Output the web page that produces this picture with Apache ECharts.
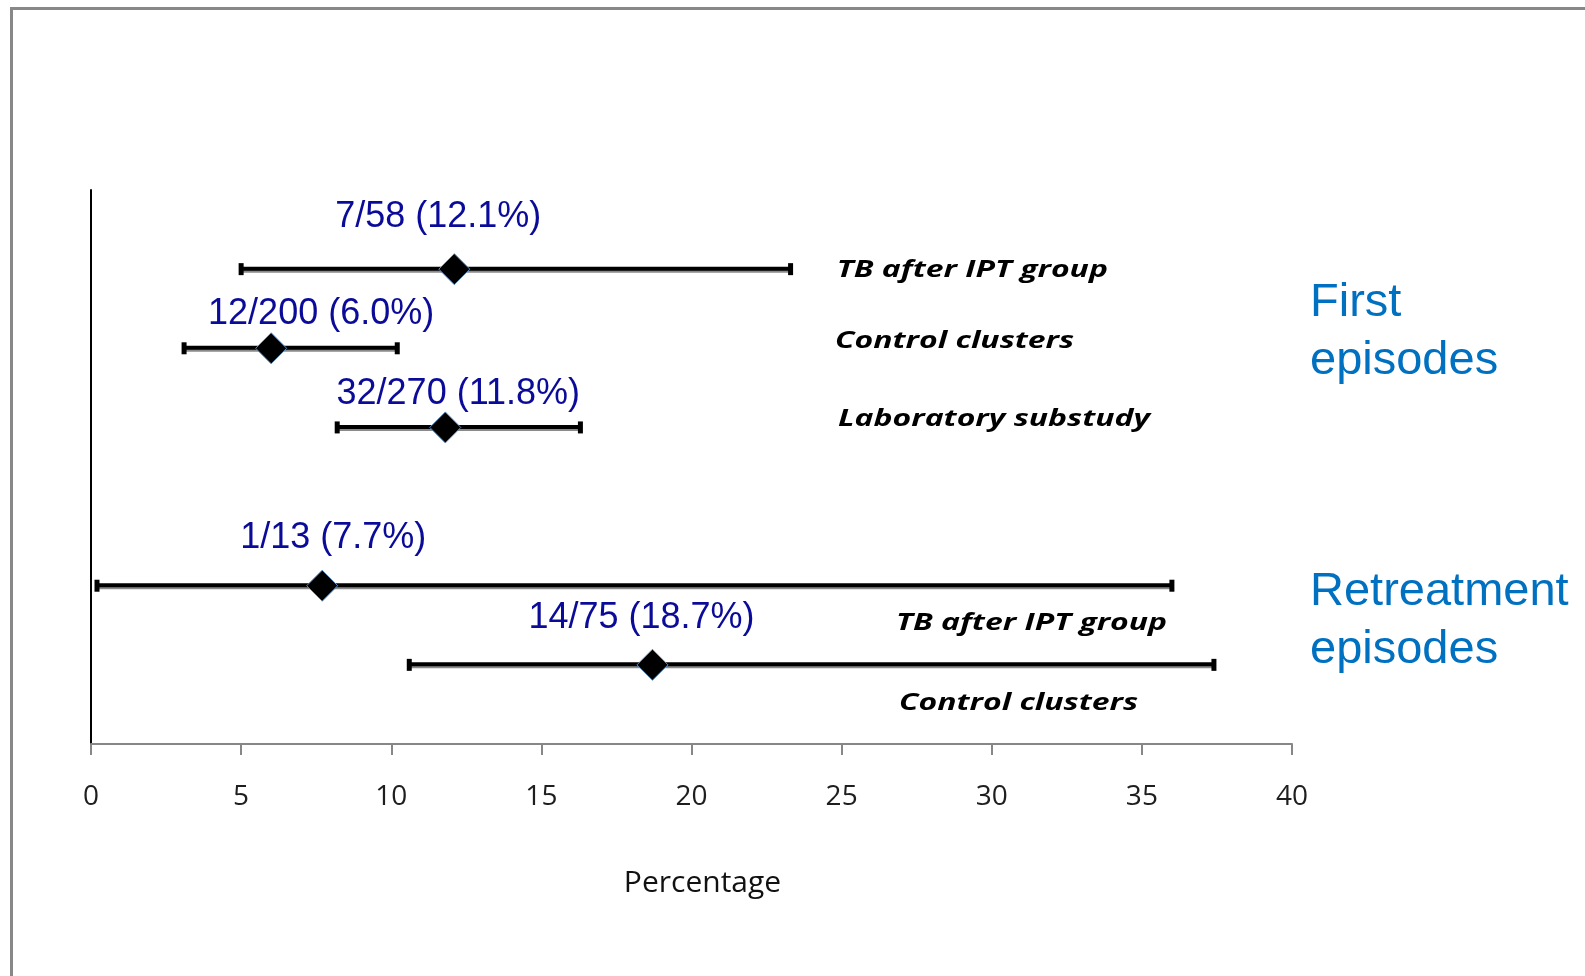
<!DOCTYPE html>
<html>
<head>
<meta charset="utf-8">
<script src="https://cdn.jsdelivr.net/npm/echarts@6/dist/echarts.min.js"></script>
<style>
  html, body { margin: 0; padding: 0; background: #fff; }
  #chart { width: 1585px; height: 976px; }
</style>
</head>
<body>
<div id="chart"></div>
<script>
// Proportions with 95% confidence intervals, one row per study group
const rowNames  = ['TB after IPT group', 'Control clusters', 'Laboratory substudy', 'TB after IPT group', 'Control clusters'];
const rowPos    = [1, 2, 3, 5, 6];
const counts    = ['7/58', '12/200', '32/270', '1/13', '14/75'];
const estimates = [12.1, 6.0, 11.8, 7.7, 18.7];
const lower     = [5.0, 3.1, 8.2, 0.2, 10.6];
const upper     = [23.3, 10.2, 16.3, 36.0, 37.4];
const xTicks    = [0, 5, 10, 15, 20, 25, 30, 35, 40];
const groupNames = ['First\nepisodes', 'Retreatment\nepisodes'];
const axisTitle = 'Percentage';

// Label placement (pixel offsets for the value labels, axis units for the row names)
const valueLabelOffset = [[-16, -52], [50, -34], [13, -33], [11, -48], [-11, -47]];
const nameAnchorX = [24.84, 24.78, 24.88, 26.81, 26.91];
const nameOffsetY = [1, -7, -8, 37, 38.5];
const groupTop = [274, 563];

const chart = echarts.init(document.getElementById('chart'));

const ciData = rowPos.map((r, i) => [lower[i], upper[i], r]);
const pointData = rowPos.map((r, i) => ({
  value: [estimates[i], r],
  label: { offset: valueLabelOffset[i] }
}));
const nameData = rowPos.map((r, i) => [nameAnchorX[i], r, i]);

const option = {
  animation: false,
  backgroundColor: '#ffffff',
  grid: { left: 91, right: 293, top: 190, bottom: 232 },
  xAxis: {
    type: 'value',
    position: 'bottom',
    min: xTicks[0],
    max: xTicks[xTicks.length - 1],
    interval: xTicks[1] - xTicks[0],
    axisLine: { show: true, onZero: false, lineStyle: { color: '#878787', width: 2 } },
    axisTick: { show: true, length: 11, lineStyle: { color: '#878787', width: 2 } },
    axisLabel: { margin: 39, fontFamily: 'Open Sans', fontSize: 28, color: '#1e1e1e' },
    splitLine: { show: false },
    name: axisTitle,
    nameLocation: 'middle',
    nameGap: 124,
    nameTextStyle: { fontFamily: 'Open Sans', fontSize: 30, color: '#111', padding: [0, 0, 0, 22] }
  },
  yAxis: {
    type: 'value',
    inverse: true,
    min: 0,
    max: 7,
    axisLine: { show: true, onZero: false, lineStyle: { color: '#000', width: 2 } },
    axisTick: { show: false },
    axisLabel: { show: false },
    splitLine: { show: false }
  },
  series: [
    {
      // confidence interval whiskers with end caps
      type: 'custom',
      data: ciData,
      z: 2,
      renderItem: function (params, api) {
        const a = api.coord([api.value(0), api.value(2)]);
        const b = api.coord([api.value(1), api.value(2)]);
        const y = a[1];
        return {
          type: 'group',
          children: [
            { type: 'line', shape: { x1: a[0], y1: y + 1.5, x2: b[0], y2: y + 1.5 },
              style: { stroke: '#8a8a8a', lineWidth: 4 } },
            { type: 'line', shape: { x1: a[0], y1: y - 0.5, x2: b[0], y2: y - 0.5 },
              style: { stroke: '#000', lineWidth: 4 } },
            { type: 'rect', shape: { x: a[0] - 2.5, y: y - 6, width: 5, height: 12 },
              style: { fill: '#000' } },
            { type: 'rect', shape: { x: b[0] - 2.5, y: y - 6, width: 5, height: 12 },
              style: { fill: '#000' } }
          ]
        };
      }
    },
    {
      // point estimates with count / percentage labels
      type: 'scatter',
      data: pointData,
      z: 3,
      symbol: 'diamond',
      symbolSize: 31,
      itemStyle: { color: '#000', borderColor: '#5a8cc4', borderWidth: 1, opacity: 1 },
      label: {
        show: true,
        position: 'inside',
        fontFamily: 'Liberation Sans, Arial, sans-serif',
        fontSize: 36,
        color: '#0b0b99',
        formatter: function (p) {
          return counts[p.dataIndex] + ' (' + estimates[p.dataIndex].toFixed(1) + '%)';
        }
      }
    },
    {
      // group row names
      type: 'custom',
      data: nameData,
      z: 3,
      renderItem: function (params, api) {
        const i = api.value(2);
        const p = api.coord([api.value(0), api.value(1)]);
        return {
          type: 'text',
          x: p[0],
          y: p[1] + nameOffsetY[i],
          scaleX: 1.33,
          style: {
            text: rowNames[i],
            fontFamily: 'Open Sans',
            fontStyle: 'italic',
            fontWeight: 700,
            fontSize: 24,
            fill: '#000',
            align: 'left',
            verticalAlign: 'middle'
          }
        };
      }
    }
  ],
  graphic: [
    {
      type: 'polyline',
      shape: { points: [[11.5, 976], [11.5, 8.5], [1585, 8.5]] },
      style: { stroke: '#888', lineWidth: 3, fill: null },
      silent: true
    },
    {
      type: 'text', left: 1310, top: groupTop[0],
      style: { text: groupNames[0], fontFamily: 'Liberation Sans, Arial, sans-serif', fontSize: 47, lineHeight: 58, fill: '#0070c0' }
    },
    {
      type: 'text', left: 1310, top: groupTop[1],
      style: { text: groupNames[1], fontFamily: 'Liberation Sans, Arial, sans-serif', fontSize: 47, lineHeight: 58, fill: '#0070c0' }
    }
  ]
};

chart.setOption(option);
</script>
</body>
</html>
